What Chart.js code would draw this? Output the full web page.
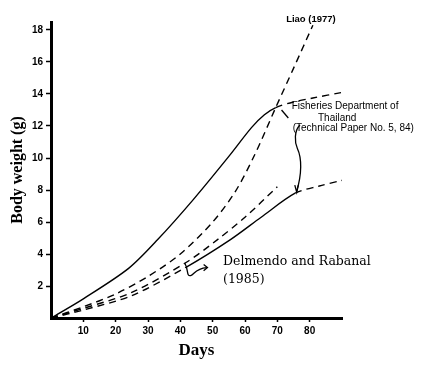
<!DOCTYPE html>
<html>
<head>
<meta charset="utf-8">
<script src="https://cdn.jsdelivr.net/npm/chart.js@4"></script>
<style>
  html, body { margin: 0; padding: 0; background: #fff; }
  #wrap { width: 425px; height: 371px; }
</style>
</head>
<body>
<div id="wrap"><canvas id="growth" width="425" height="371"></canvas></div>
<script>
// Fisheries Department of Thailand, upper curve (solid, dashed after day ~70)
const upperDays   = [0, 10, 24, 33, 44, 55, 62, 66, 69.5, 75, 81, 90];
const upperWeight = [0, 1.2, 3.1, 4.9, 7.4, 10.1, 11.9, 12.7, 13.15, 13.5, 13.75, 14.1];

// Liao (1977)
const liaoDays   = [0, 10, 20, 30, 40, 50, 57, 63, 69.5, 75, 81];
const liaoWeight = [0, 0.7, 1.5, 2.6, 4.0, 6.0, 7.9, 10.2, 13.15, 15.6, 18.3];

// Delmendo and Rabanal (1985)
const delmDays   = [0, 10, 25, 42, 51.5, 60, 70];
const delmWeight = [0, 0.6, 1.6, 3.5, 4.9, 6.3, 8.2];

// Fisheries Department of Thailand, lower curve
const lowerDays   = [0, 10, 25, 42, 55.5, 65, 75.5, 83, 90];
const lowerWeight = [0, 0.5, 1.4, 3.2, 4.9, 6.3, 7.8, 8.25, 8.6];

const xTicks = [10, 20, 30, 40, 50, 60, 70, 80];
const yTicks = [2, 4, 6, 8, 10, 12, 14, 16, 18];

const DASH = [7, 5];
const pts = (xs, ys) => xs.map((x, i) => ({ x: x, y: ys[i] }));

function line(data, dash, segment) {
    return {
        data: data,
        showLine: true,
        borderColor: '#000',
        borderWidth: 1.4,
        borderDash: dash,
        pointRadius: 0,
        fill: false,
        tension: 0.3,
        segment: segment
    };
}

// labels and pointer strokes, placed in data units
const notes = {
    id: 'notes',
    afterDatasetsDraw(chart) {
        const ctx = chart.ctx;
        const sx = chart.scales.x, sy = chart.scales.y;
        const px = d => sx.getPixelForValue(d);
        const py = w => sy.getPixelForValue(w);
        ctx.save();
        ctx.fillStyle = '#000';
        ctx.strokeStyle = '#000';
        ctx.textBaseline = 'middle';

        ctx.font = 'bold 9.5px "Liberation Sans", Arial, sans-serif';
        ctx.textAlign = 'center';
        ctx.fillText('Liao (1977)', px(80.4), py(18.65));

        ctx.font = '10px "Liberation Sans", Arial, sans-serif';
        ctx.textAlign = 'left';
        ctx.fillText('Fisheries Department of', px(74.45), py(13.22));
        ctx.fillText('(Technical Paper No. 5, 84)', px(74.75), py(11.84));
        ctx.textAlign = 'center';
        ctx.fillText('Thailand', px(88.5), py(12.5));

        ctx.font = '12.5px "DejaVu Serif", serif';
        ctx.textAlign = 'left';
        ctx.fillText('Delmendo and Rabanal', px(53.2), py(3.5));
        ctx.fillText('(1985)', px(53.2), py(2.375));

        ctx.lineWidth = 1.3;
        // short pointer to the upper curve
        ctx.beginPath();
        ctx.moveTo(px(71.3), py(13.0));
        ctx.lineTo(px(73.4), py(12.5));
        ctx.stroke();

        // wavy brace down to the lower curve
        ctx.beginPath();
        ctx.moveTo(px(77.0), py(12.06));
        ctx.bezierCurveTo(px(75.2), py(11.7), px(75.3), py(11.0), px(76.2), py(10.6));
        ctx.bezierCurveTo(px(77.6), py(10.0), px(77.6), py(9.0), px(76.0), py(7.95));
        ctx.stroke();
        ctx.beginPath();
        ctx.moveTo(px(75.4), py(8.3));
        ctx.lineTo(px(76.0), py(7.85));
        ctx.lineTo(px(76.5), py(8.3));
        ctx.stroke();

        // squiggle from the curves to the Delmendo label
        ctx.beginPath();
        ctx.moveTo(px(41.4), py(3.42));
        ctx.bezierCurveTo(px(42.6), py(3.0), px(41.8), py(2.6), px(43.2), py(2.65));
        ctx.bezierCurveTo(px(44.3), py(2.7), px(44.6), py(3.1), px(48.2), py(3.15));
        ctx.stroke();
        ctx.beginPath();
        ctx.moveTo(px(47.2), py(3.35));
        ctx.lineTo(px(48.4), py(3.15));
        ctx.lineTo(px(47.2), py(2.95));
        ctx.stroke();
        ctx.restore();
    }
};

const afterX = ctx => (ctx.p0.parsed.x >= 69.5 ? DASH : undefined);
const lowerSeg = ctx => (ctx.p0.parsed.x < 42 || ctx.p0.parsed.x >= 75.5 ? DASH : undefined);

const config = {
    type: 'scatter',
    data: {
        datasets: [
            line(pts(upperDays, upperWeight), [], { borderDash: afterX }),
            line(pts(liaoDays, liaoWeight), DASH),
            line(pts(delmDays, delmWeight), DASH),
            line(pts(lowerDays, lowerWeight), [], { borderDash: lowerSeg })
        ]
    },
    options: {
        responsive: false,
        animation: false,
        layout: { padding: { left: 0, right: 83, top: 22, bottom: 0 } },
        plugins: {
            legend: { display: false },
            tooltip: { enabled: false }
        },
        scales: {
            x: {
                type: 'linear',
                min: 0,
                max: 90,
                afterFit: s => { s.height = 53; },
                afterBuildTicks: s => { s.ticks = xTicks.map(v => ({ value: v })); },
                grid: { drawOnChartArea: false, tickLength: 4, tickColor: '#000', tickWidth: 1.5 },
                border: { color: '#000', width: 3 },
                ticks: {
                    color: '#000',
                    padding: 3,
                    maxRotation: 0,
                    font: { family: '"Liberation Sans", Arial, sans-serif', size: 10, weight: 'bold' }
                },
                title: {
                    display: true,
                    text: 'Days',
                    color: '#000',
                    padding: { top: 0, bottom: 10 },
                    font: { family: '"Liberation Serif", serif', size: 17, weight: 'bold' }
                }
            },
            y: {
                type: 'linear',
                min: 0,
                max: 18.5,
                afterFit: s => { s.width = 51; },
                afterBuildTicks: s => { s.ticks = yTicks.map(v => ({ value: v })); },
                grid: { drawOnChartArea: false, tickLength: 5, tickColor: '#000', tickWidth: 1.5 },
                border: { color: '#000', width: 3 },
                ticks: {
                    color: '#000',
                    padding: 3,
                    font: { family: '"Liberation Sans", Arial, sans-serif', size: 10, weight: 'bold' }
                },
                title: {
                    display: true,
                    text: 'Body weight (g)',
                    color: '#000',
                    padding: { top: 8, bottom: 0 },
                    font: { family: '"Liberation Serif", serif', size: 16, weight: 'bold' }
                }
            }
        }
    },
    plugins: [notes]
};

const growthChart = new Chart(document.getElementById('growth'), config);
</script>
</body>
</html>
